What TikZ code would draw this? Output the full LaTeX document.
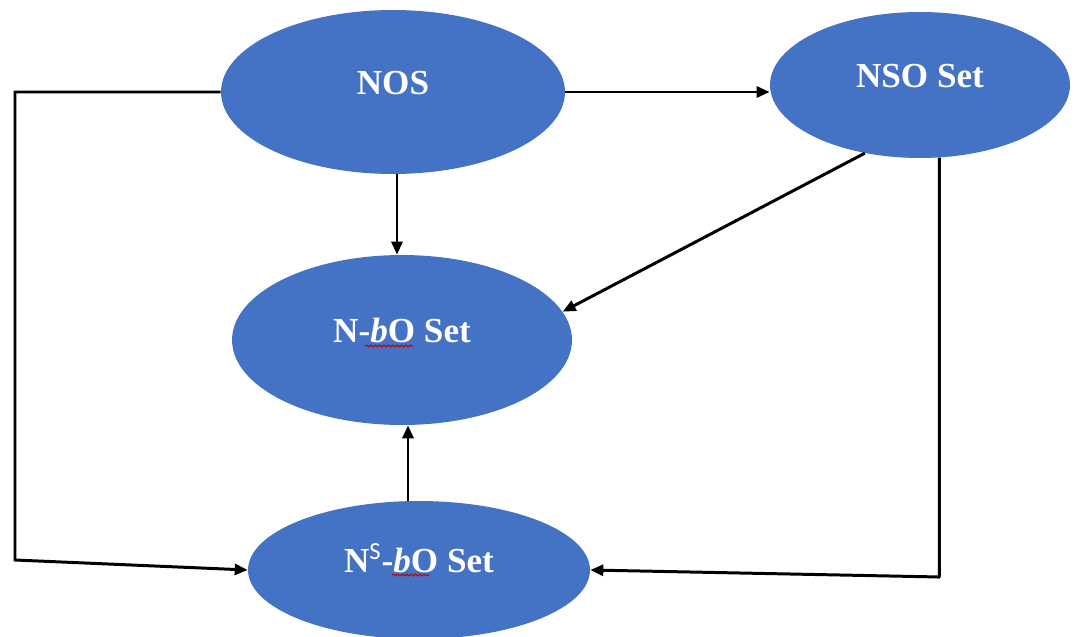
\documentclass[tikz,border=0pt]{standalone}
\usepackage{fontspec}
\setmainfont{Liberation Serif}
\setsansfont{Carlito}
\usetikzlibrary{shapes.geometric,arrows.meta,decorations.pathmorphing}
\definecolor{setblue}{RGB}{68,114,196}

\begin{document}
\begin{tikzpicture}[x=0.02cm,y=-0.02cm,
	setnode/.style={ellipse,fill=setblue,inner sep=0pt,text=white,
		font=\fontsize{20}{23}\selectfont\bfseries,text height=0.48cm,text depth=0.38cm},
	link/.style={line width=1.7pt,-{Triangle[length=0.26cm,width=0.22cm]}},
	squig/.style={red!75!black,line width=0.6pt,decorate,
		decoration={snake,amplitude=0.5pt,segment length=2.5pt}}]
		\useasboundingbox (0,0) rectangle (1079,636);

		% the four sets
		\node[setnode,minimum width=6.88cm,minimum height=3.28cm] (nos) at (393,92) {NOS};
		\node[setnode,minimum width=6.0cm,minimum height=2.92cm] (nso) at (920,85) {NSO Set};
		\node[setnode,minimum width=6.8cm,minimum height=3.4cm] (nbo) at (402,340) {N-\textit{b}O Set};
		\node[setnode,minimum width=6.84cm,minimum height=2.76cm] (nsbo) at (419,570)
			{N\textsuperscript{\sffamily\mdseries S}-\textit{b}O Set};

		\draw[squig] ([shift={(-37,6)}]nbo.center) -- ([shift={(11,6)}]nbo.center);
		\draw[squig] ([shift={(-27,5)}]nsbo.center) -- ([shift={(10,5)}]nsbo.center);

		\coordinate (lcorner) at (15,560);
		\coordinate (rcorner) at (940,577);

		\draw[link] (nos.east) -- (nos.east -| nso.west);
		\draw[link] ([xshift=0.08cm]nos.south) -- ([xshift=0.08cm]nos.south |- nbo.north);
		\draw[link] (nso.231) -- (nbo.10);
		\draw[link] ([xshift=-0.22cm]nsbo.north) -- ([xshift=-0.22cm]nsbo.north |- nbo.south);
		\draw[link] (nos.west) -| (lcorner) -- (nsbo.west);
		\draw[link] (nso.285) |- (rcorner) -- (nsbo.east);
\end{tikzpicture}
\end{document}
